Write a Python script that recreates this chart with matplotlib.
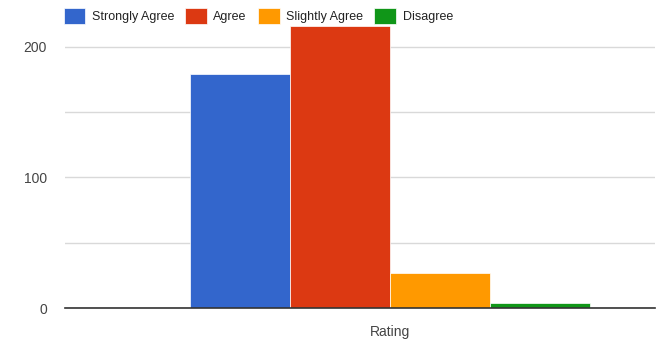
import numpy as np
import matplotlib
matplotlib.use('Agg')
import matplotlib.pyplot as plt

plt.rcParams['font.family'] = ['Liberation Sans Narrow', 'Liberation Sans', 'DejaVu Sans']

# data
categories = ['Rating']
series = ['Strongly Agree', 'Agree', 'Slightly Agree', 'Disagree']
values = [179, 216, 27, 4]
colors = ['#3366cc', '#dc3912', '#ff9900', '#109618']

fig = plt.figure(figsize=(6.58, 3.42), dpi=100)
ax = fig.add_axes([65/658, 1 - 308/342, 590/658, 308/342])

w = 0.2
x = np.arange(len(categories))
for i, (s, v, c) in enumerate(zip(series, values, colors)):
    ax.bar(x + (i - 1.5) * w, v, width=w, color=c, label=s, edgecolor='white', linewidth=0.5, zorder=2)

ax.set_xlim(-0.65, 0.53)
ax.set_ylim(0, 236)
ax.set_yticks([0, 100, 200])
ax.set_yticks([50, 150], minor=True)
ax.grid(axis='y', which='both', color='#d9d9d9', linewidth=1, zorder=0)
ax.set_xticks(x)
ax.set_xticklabels(categories)
ax.tick_params(axis='both', which='both', length=0, labelsize=10, colors='#444444')
ax.tick_params(axis='x', pad=12)
ax.tick_params(axis='y', pad=13)
for side in ['top', 'right', 'left']:
    ax.spines[side].set_visible(False)
ax.spines['bottom'].set_color('#333333')
ax.spines['bottom'].set_linewidth(1.2)

leg = fig.legend(loc='center left', bbox_to_anchor=(61/658, 1 - 16/342), ncol=4, frameon=False,
                 fontsize=9, handlelength=1.75, handleheight=1.6, handletextpad=0.5,
                 columnspacing=0.9, labelcolor='#222222', borderaxespad=0, borderpad=0.2)

fig.savefig('out.png', dpi=100)
